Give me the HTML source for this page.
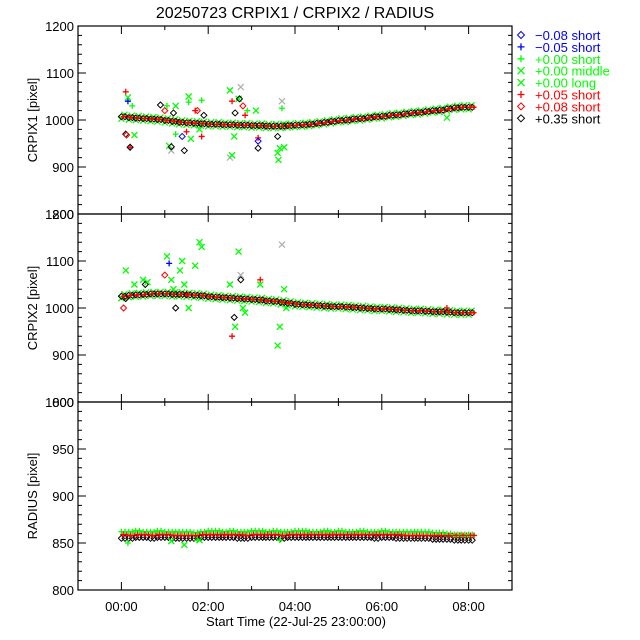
<!DOCTYPE html>
<html><head><meta charset="utf-8">
<style>
html,body{margin:0;padding:0;background:#fff;}
svg{display:block;font-family:"Liberation Sans","DejaVu Sans",sans-serif;}
</style></head>
<body>
<svg id="chart" width="640" height="640" viewBox="0 0 640 640" xmlns="http://www.w3.org/2000/svg">
<rect width="640" height="640" fill="#fff"/>
<text x="295" y="18" font-size="16" text-anchor="middle" fill="#000">20250723 CRPIX1 / CRPIX2 / RADIUS</text>
<g id="plots"></g>
<g id="legend"></g>
</svg>
<script>
// ---- data ----
const timeHours = [0,0.17,0.33,0.5,0.67,0.83,1,1.17,1.33,1.5,1.67,1.83,2,2.17,2.33,2.5,2.67,2.83,3,3.17,3.33,3.5,3.67,3.83,4,4.17,4.33,4.5,4.67,4.83,5,5.17,5.33,5.5,5.67,5.83,6,6.17,6.33,6.5,6.67,6.83,7,7.17,7.33,7.5,7.67,7.83,8];
const crpix1 = [1007,1005,1004,1003,1002,1001,999,997,995,994,993,992,991,991,990,990,989,989,988,988,987,987,987,988,989,990,991,993,995,997,999,1000,1002,1003,1005,1007,1008,1010,1011,1013,1015,1016,1018,1020,1021,1024,1026,1027,1027];
const crpix2 = [1025,1027,1028,1029,1030,1030,1030,1029,1029,1028,1027,1026,1024,1023,1022,1021,1020,1019,1018,1017,1015,1014,1012,1010,1008,1007,1006,1005,1004,1003,1003,1002,1001,1000,999,998,998,997,996,995,994,994,993,992,992,991,990,990,990];
const radiusGreen = [862,862,863,862,862,863,862,862,862,862,861,862,863,863,862,863,862,862,863,863,862,863,862,862,863,863,862,862,863,862,863,862,862,863,862,862,863,862,862,862,862,862,862,861,861,860,859,859,859];
const radiusRed = [859,858,859,859,858,859,859,858,858,858,858,859,859,859,859,859,859,858,859,859,859,859,858,859,859,859,859,859,859,859,859,859,859,859,859,859,859,859,859,858,858,858,858,858,858,858,858,858,858];
const radiusBlack = [855,855,856,856,855,856,856,855,855,855,855,856,856,856,856,856,855,855,856,856,856,856,855,856,856,856,856,856,856,856,856,856,856,856,856,855,856,856,855,855,855,855,855,854,854,854,853,853,853];
// outliers: [hour, value, seriesIndex]
const outliers1 = [[0.1,1060,5],[0.1,970,7],[0.12,968,6],[0.15,1040,1],[0.15,1048,3],[0.2,942,5],[0.2,942,7],[0.25,1030,2],[0.3,968,3],[0.7,1005,2],[0.9,1032,7],[1.0,1020,6],[1.05,1030,2],[1.1,945,3],[1.15,935,4],[1.15,943,7],[1.2,1015,7],[1.25,970,2],[1.25,1030,3],[1.4,965,0],[1.45,935,7],[1.5,975,5],[1.55,1050,3],[1.55,1038,2],[1.6,960,3],[1.7,1020,5],[1.75,1020,6],[1.8,980,3],[1.85,1042,2],[1.85,965,5],[1.9,1010,7],[2.5,1063,3],[2.5,920,4],[2.55,925,3],[2.55,1040,5],[2.6,965,3],[2.62,1015,7],[2.7,1045,3],[2.72,1045,7],[2.75,1070,4],[2.8,1030,6],[2.85,1010,5],[2.9,1020,2],[3.1,1020,3],[3.15,962,5],[3.15,940,7],[3.15,955,0],[3.6,965,7],[3.6,930,3],[3.62,915,3],[3.65,940,3],[3.7,1040,4],[3.7,1025,2],[3.75,942,3],[3.8,990,3],[7.5,1005,3]];
const outliers2 = [[0.05,1000,6],[0.1,1080,3],[0.1,1020,7],[0.3,1050,3],[0.5,1060,3],[0.55,1050,7],[0.6,1055,3],[1.0,1070,6],[1.05,1110,3],[1.1,1095,1],[1.15,1060,3],[1.2,1040,3],[1.25,1000,7],[1.35,1080,3],[1.4,1100,3],[1.45,1050,3],[1.5,1030,5],[1.55,1000,3],[1.7,1090,3],[1.8,1140,3],[1.85,1130,3],[2.5,1050,3],[2.55,940,5],[2.6,980,7],[2.62,960,3],[2.7,1120,3],[2.75,1070,4],[2.75,1060,7],[2.8,1000,3],[2.85,990,3],[3.2,1050,3],[3.2,1060,5],[3.6,920,3],[3.65,960,3],[3.7,1135,4],[3.75,1040,3],[3.8,1000,3],[7.5,1000,5]];
const outliers3 = [[0.15,850,2],[1.15,852,3],[1.45,848,3],[1.75,853,2],[1.8,853,3],[3.65,853,2]];
const yTicks1 = [800,900,1000,1100,1200];
const yTicks3 = [800,850,900,950,1000];
const xTickLabels = ["00:00","02:00","04:00","06:00","08:00"];
const xTickHours = [0,2,4,6,8];
const legendLabels = ["\u22120.08 short","\u22120.05 short","+0.00 short","+0.00 middle","+0.00 long","+0.05 short","+0.08 short","+0.35 short"];
const legendColors = ["#0000ff","#0000ff","#00ff00","#00ff00","#00ff00","#ff0000","#ff0000","#000000"];
const seriesSym = ["diamond","plus","plus","x","x","plus","diamond","diamond"];
const seriesColors = ["#0000ff","#0000ff","#00ff00","#00ff00","#b0b0b0","#ff0000","#ff0000","#000000"];

// ---- layout ----
const X0=78, X1=512, XMIN=-1, XMAX=9;
const xs = h => X0 + (h-XMIN)/(XMAX-XMIN)*(X1-X0);
const panels = [
 {top:26,bot:214,min:800,max:1200,ticks:yTicks1,minor:20,label:"CRPIX1 [pixel]",name:"crpix1"},
 {top:214,bot:402,min:800,max:1200,ticks:yTicks1,minor:20,label:"CRPIX2 [pixel]",name:"crpix2"},
 {top:402,bot:590,min:800,max:1000,ticks:yTicks3,minor:10,label:"RADIUS [pixel]",name:"radius"}
];
const NS="http://www.w3.org/2000/svg";
const root=document.getElementById('plots');
function mk(tag,attrs,parent){const e=document.createElementNS(NS,tag);for(const k in attrs)e.setAttribute(k,attrs[k]);(parent||root).appendChild(e);return e;}
function marker(g,sym,x,y,c,s){
  let e;
  if(sym==="diamond"){e=mk('path',{d:`M${x} ${y-s}L${x+s} ${y}L${x} ${y+s}L${x-s} ${y}Z`,fill:'none',stroke:c,'stroke-width':1},g);}
  else if(sym==="plus"){e=mk('path',{d:`M${x-s} ${y}H${x+s}M${x} ${y-s}V${y+s}`,stroke:c,'stroke-width':1.3},g);}
  else {e=mk('path',{d:`M${x-s} ${y-s}L${x+s} ${y+s}M${x+s} ${y-s}L${x-s} ${y+s}`,stroke:c,'stroke-width':1.3},g);}
  
  
  return e;
}
panels.forEach((p,pi)=>{
  const ys=v=>p.bot-(v-p.min)/(p.max-p.min)*(p.bot-p.top);
  const g=mk('g',{});
  
  
  // data
  const dg=mk('g',{},g);
  
  
  if(pi<2){
    const base = pi===0?crpix1:crpix2;
    const outs = pi===0?outliers1:outliers2;
    timeHours.forEach((h,i)=>{const x=xs(h),y=ys(base[i]);
      marker(dg,'x',x,y+2,'#00ff00',3);
      marker(dg,'x',x+3,y-2,'#00ff00',3);
    });
    outs.forEach(o=>marker(dg,seriesSym[o[2]],xs(o[0]),ys(o[1]),seriesColors[o[2]],3));
    timeHours.forEach((h,i)=>{const x=xs(h),y=ys(base[i]);
      marker(dg,'diamond',x,y,'#000',3);
      marker(dg,'diamond',x+3.6,y,'#000',3);
      marker(dg,'plus',x+1.8,y,'#ff0000',2.5);
      marker(dg,'plus',x+5.4,y,'#ff0000',2.5);
    });
  } else {
    timeHours.forEach((h,i)=>{const x=xs(h);
      marker(dg,'diamond',x,ys(radiusBlack[i]),'#000',3);
      marker(dg,'diamond',x+3.6,ys(radiusBlack[i]),'#000',3);
      marker(dg,'plus',x,ys(radiusGreen[i]),'#00ff00',3);
      marker(dg,'plus',x+3.6,ys(radiusGreen[i]),'#00ff00',3);
      marker(dg,'plus',x+1.8,ys(radiusRed[i]),'#ff0000',3);
      marker(dg,'plus',x+5.4,ys(radiusRed[i]),'#ff0000',3);
    });
    outliers3.forEach(o=>marker(dg,seriesSym[o[2]],xs(o[0]),ys(o[1]),seriesColors[o[2]],3));
  }
  // frame
  const fr=mk('rect',{x:X0,y:p.top,width:X1-X0,height:p.bot-p.top,fill:'none',stroke:'#000','stroke-width':1.2},g);
  
  
  // y ticks
  for(let v=p.min;v<=p.max;v+=p.minor){
    const y=ys(v);const major=p.ticks.includes(v);const L=major?8:4;
    mk('path',{d:`M${X0} ${y}h${L}M${X1} ${y}h${-L}`,stroke:'#000','stroke-width':1},g);
  }
  p.ticks.forEach(v=>{
    const t=mk('text',{x:X0-4,y:ys(v)+5,'font-size':13,'text-anchor':'end',fill:'#000'},g);
    t.textContent=v;
    
    
  });
  // x ticks
  for(let h=-1;h<=9;h++){
    const x=xs(h);const major=h%2===0;const L=major?8:4;
    mk('path',{d:`M${x} ${p.bot}v${-L}M${x} ${p.top}v${L}`,stroke:'#000','stroke-width':1},g);
  }
  const yl=mk('text',{x:0,y:0,'font-size':13,'text-anchor':'middle',fill:'#000',transform:`translate(37 ${(p.top+p.bot)/2}) rotate(-90)`},g);
  yl.textContent=p.label;
  
  
});
xTickHours.forEach((h,i)=>{
  const t=mk('text',{x:xs(h),y:611,'font-size':13,'text-anchor':'middle',fill:'#000'});
  t.textContent=xTickLabels[i];
  
  
});
const xt=mk('text',{x:296,y:626,'font-size':13,'text-anchor':'middle',fill:'#000'});
xt.textContent="Start Time (22-Jul-25 23:00:00)";


// legend
const lg=document.getElementById('legend');
legendLabels.forEach((lab,i)=>{
  const y=35+i*11.9;
  const e=document.createElementNS(NS,'g');lg.appendChild(e);
  
  
  marker(e,seriesSym[i],521,y,legendColors[i],3.5);
  const t=mk('text',{x:535,y:y+5,'font-size':13,fill:legendColors[i]},e);
  t.textContent=lab;
});
</script>
</body></html>
